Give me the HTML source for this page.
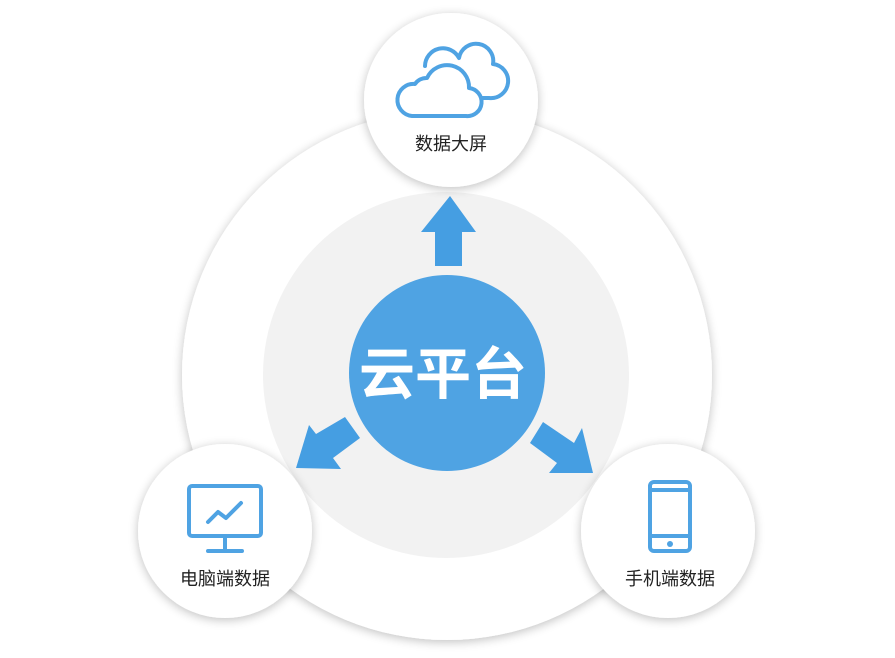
<!DOCTYPE html>
<html><head><meta charset="utf-8"><style>
body{margin:0;width:895px;height:653px;background:#fff;overflow:hidden;font-family:"Liberation Sans","Noto Sans CJK SC",sans-serif;}
</style></head><body>
<svg width="895" height="653" viewBox="0 0 895 653" xmlns="http://www.w3.org/2000/svg">
<defs>
<filter id="sh" x="-20%" y="-20%" width="140%" height="140%"><feGaussianBlur in="SourceAlpha" stdDeviation="5"/><feOffset dy="2"/><feComponentTransfer><feFuncA type="linear" slope="0.25"/></feComponentTransfer><feMerge><feMergeNode/><feMergeNode in="SourceGraphic"/></feMerge></filter>
</defs>
<circle cx="447" cy="375" r="265" fill="#fff" filter="url(#sh)"/>
<circle cx="446" cy="375" r="183" fill="#f2f2f2"/>
<circle cx="447" cy="373" r="98" fill="#4fa3e3"/>
<text x="443" y="394" text-anchor="middle" font-size="56" font-weight="bold" fill="#fff" font-family="Noto Sans CJK SC, sans-serif">云平台</text>
<g fill="#459ee2">
<polygon points="450,196 476,232 462,232 462,266 435,266 435,232 421,232"/>
<polygon points="296,468 309,425 316,434 345,417 360,438 333,458 341,469"/>
<polygon points="593,473 582,428 574,443 543,422 530,443 557,463 549,473"/>
</g>
<circle cx="451" cy="100" r="87" fill="#fff" filter="url(#sh)"/>
<circle cx="225" cy="531" r="87" fill="#fff" filter="url(#sh)"/>
<circle cx="668" cy="531" r="87" fill="#fff" filter="url(#sh)"/>
<g fill="none" stroke="#4fa3e3" stroke-width="4" stroke-linecap="round" stroke-linejoin="round">
<path d="M425,66 a18,18 0 0 1 34,-8 a14,14 0 0 1 34,6 a12,12 0 0 1 -4,34 l-8,0"/>
<path d="M412,116 h54 a14,14 0 0 0 3,-28 a22,22 0 0 0 -42,-10 a14,14 0 0 0 -12,6 a14,14 0 0 0 -3,32 z" fill="#fff"/>
<rect x="189" y="486" width="72" height="50" rx="3"/>
<path d="M208,522 l10,-10 8,6 15,-15"/>
<path d="M225,537 v13 M208,551 h34"/>
<rect x="650" y="482" width="40" height="69" rx="4"/>
<path d="M651,490 h38 M651,536 h38"/>
</g>
<circle cx="670" cy="544" r="3" fill="#4fa3e3"/>
<g font-size="18" fill="#222" text-anchor="middle">
<text x="451" y="150">数据大屏</text>
<text x="225" y="585">电脑端数据</text>
<text x="670" y="585">手机端数据</text>
</g>
</svg>
</body></html>
